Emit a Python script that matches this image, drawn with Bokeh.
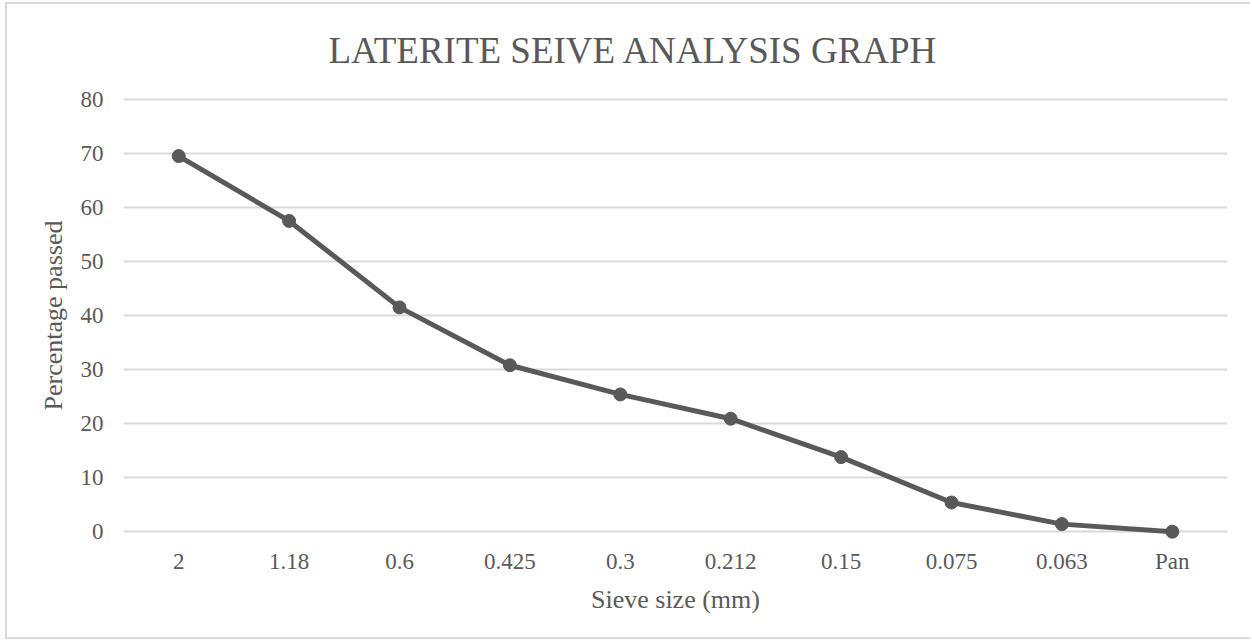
from bokeh.plotting import figure
from bokeh.models import FactorRange, Range1d, FixedTicker
from bokeh.embed import file_html
from bokeh.resources import INLINE

sieve_sizes = ["2", "1.18", "0.6", "0.425", "0.3", "0.212", "0.15", "0.075", "0.063", "Pan"]
percent_passed = [69.5, 57.5, 41.5, 30.8, 25.4, 20.9, 13.8, 5.4, 1.4, 0.0]
y_ticks = [0, 10, 20, 30, 40, 50, 60, 70, 80]

TEXT = "#595959"
GRID = "#d9d9d9"
FONT = "Liberation Serif"

p = figure(
    width=1245, height=637,
    x_range=FactorRange(factors=sieve_sizes, range_padding=0),
    y_range=Range1d(-2, 82),
    output_backend="svg", toolbar_location=None,
    min_border_left=116, min_border_right=25, min_border_top=84, min_border_bottom=99,
    styles={"margin-left": "5px", "margin-top": "2px",
            "border-left": "2px solid #d9d9d9", "border-top": "2px solid #d9d9d9",
            "border-bottom": "2px solid #d9d9d9"},
)
p.outline_line_color = None
p.background_fill_color = "white"
p.border_fill_color = "white"

p.title.text = "LATERITE SEIVE ANALYSIS GRAPH"
p.title.align = "left"
p.title.offset = 205
p.title.text_font = FONT
p.title.text_font_size = "37px"
p.title.text_font_style = "normal"
p.title.text_color = TEXT
p.title.standoff = 35

p.xgrid.grid_line_color = None
p.ygrid.grid_line_color = GRID
p.ygrid.grid_line_width = 2
p.yaxis.ticker = FixedTicker(ticks=y_ticks)

for ax in (p.xaxis[0], p.yaxis[0]):
    ax.axis_line_color = None
    ax.major_tick_line_color = None
    ax.minor_tick_line_color = None
    ax.major_tick_out = 0
    ax.major_tick_in = 0
    ax.major_label_text_font = FONT
    ax.major_label_text_font_size = "23px"
    ax.major_label_text_color = TEXT
    ax.axis_label_text_font = FONT
    ax.axis_label_text_font_size = "26px"
    ax.axis_label_text_font_style = "normal"
    ax.axis_label_text_color = TEXT

p.xaxis.axis_label = "Sieve size (mm)"
p.xaxis.major_label_standoff = 6
p.xaxis.axis_label_standoff = 8
p.yaxis.axis_label = "Percentage passed"
p.yaxis.major_label_standoff = 20
p.yaxis.axis_label_standoff = 10

p.line(x=sieve_sizes, y=percent_passed, line_color=TEXT, line_width=5)
p.scatter(x=sieve_sizes, y=percent_passed, size=13, fill_color=TEXT, line_color=TEXT)

open("out.html", "w").write(file_html(p, INLINE))
